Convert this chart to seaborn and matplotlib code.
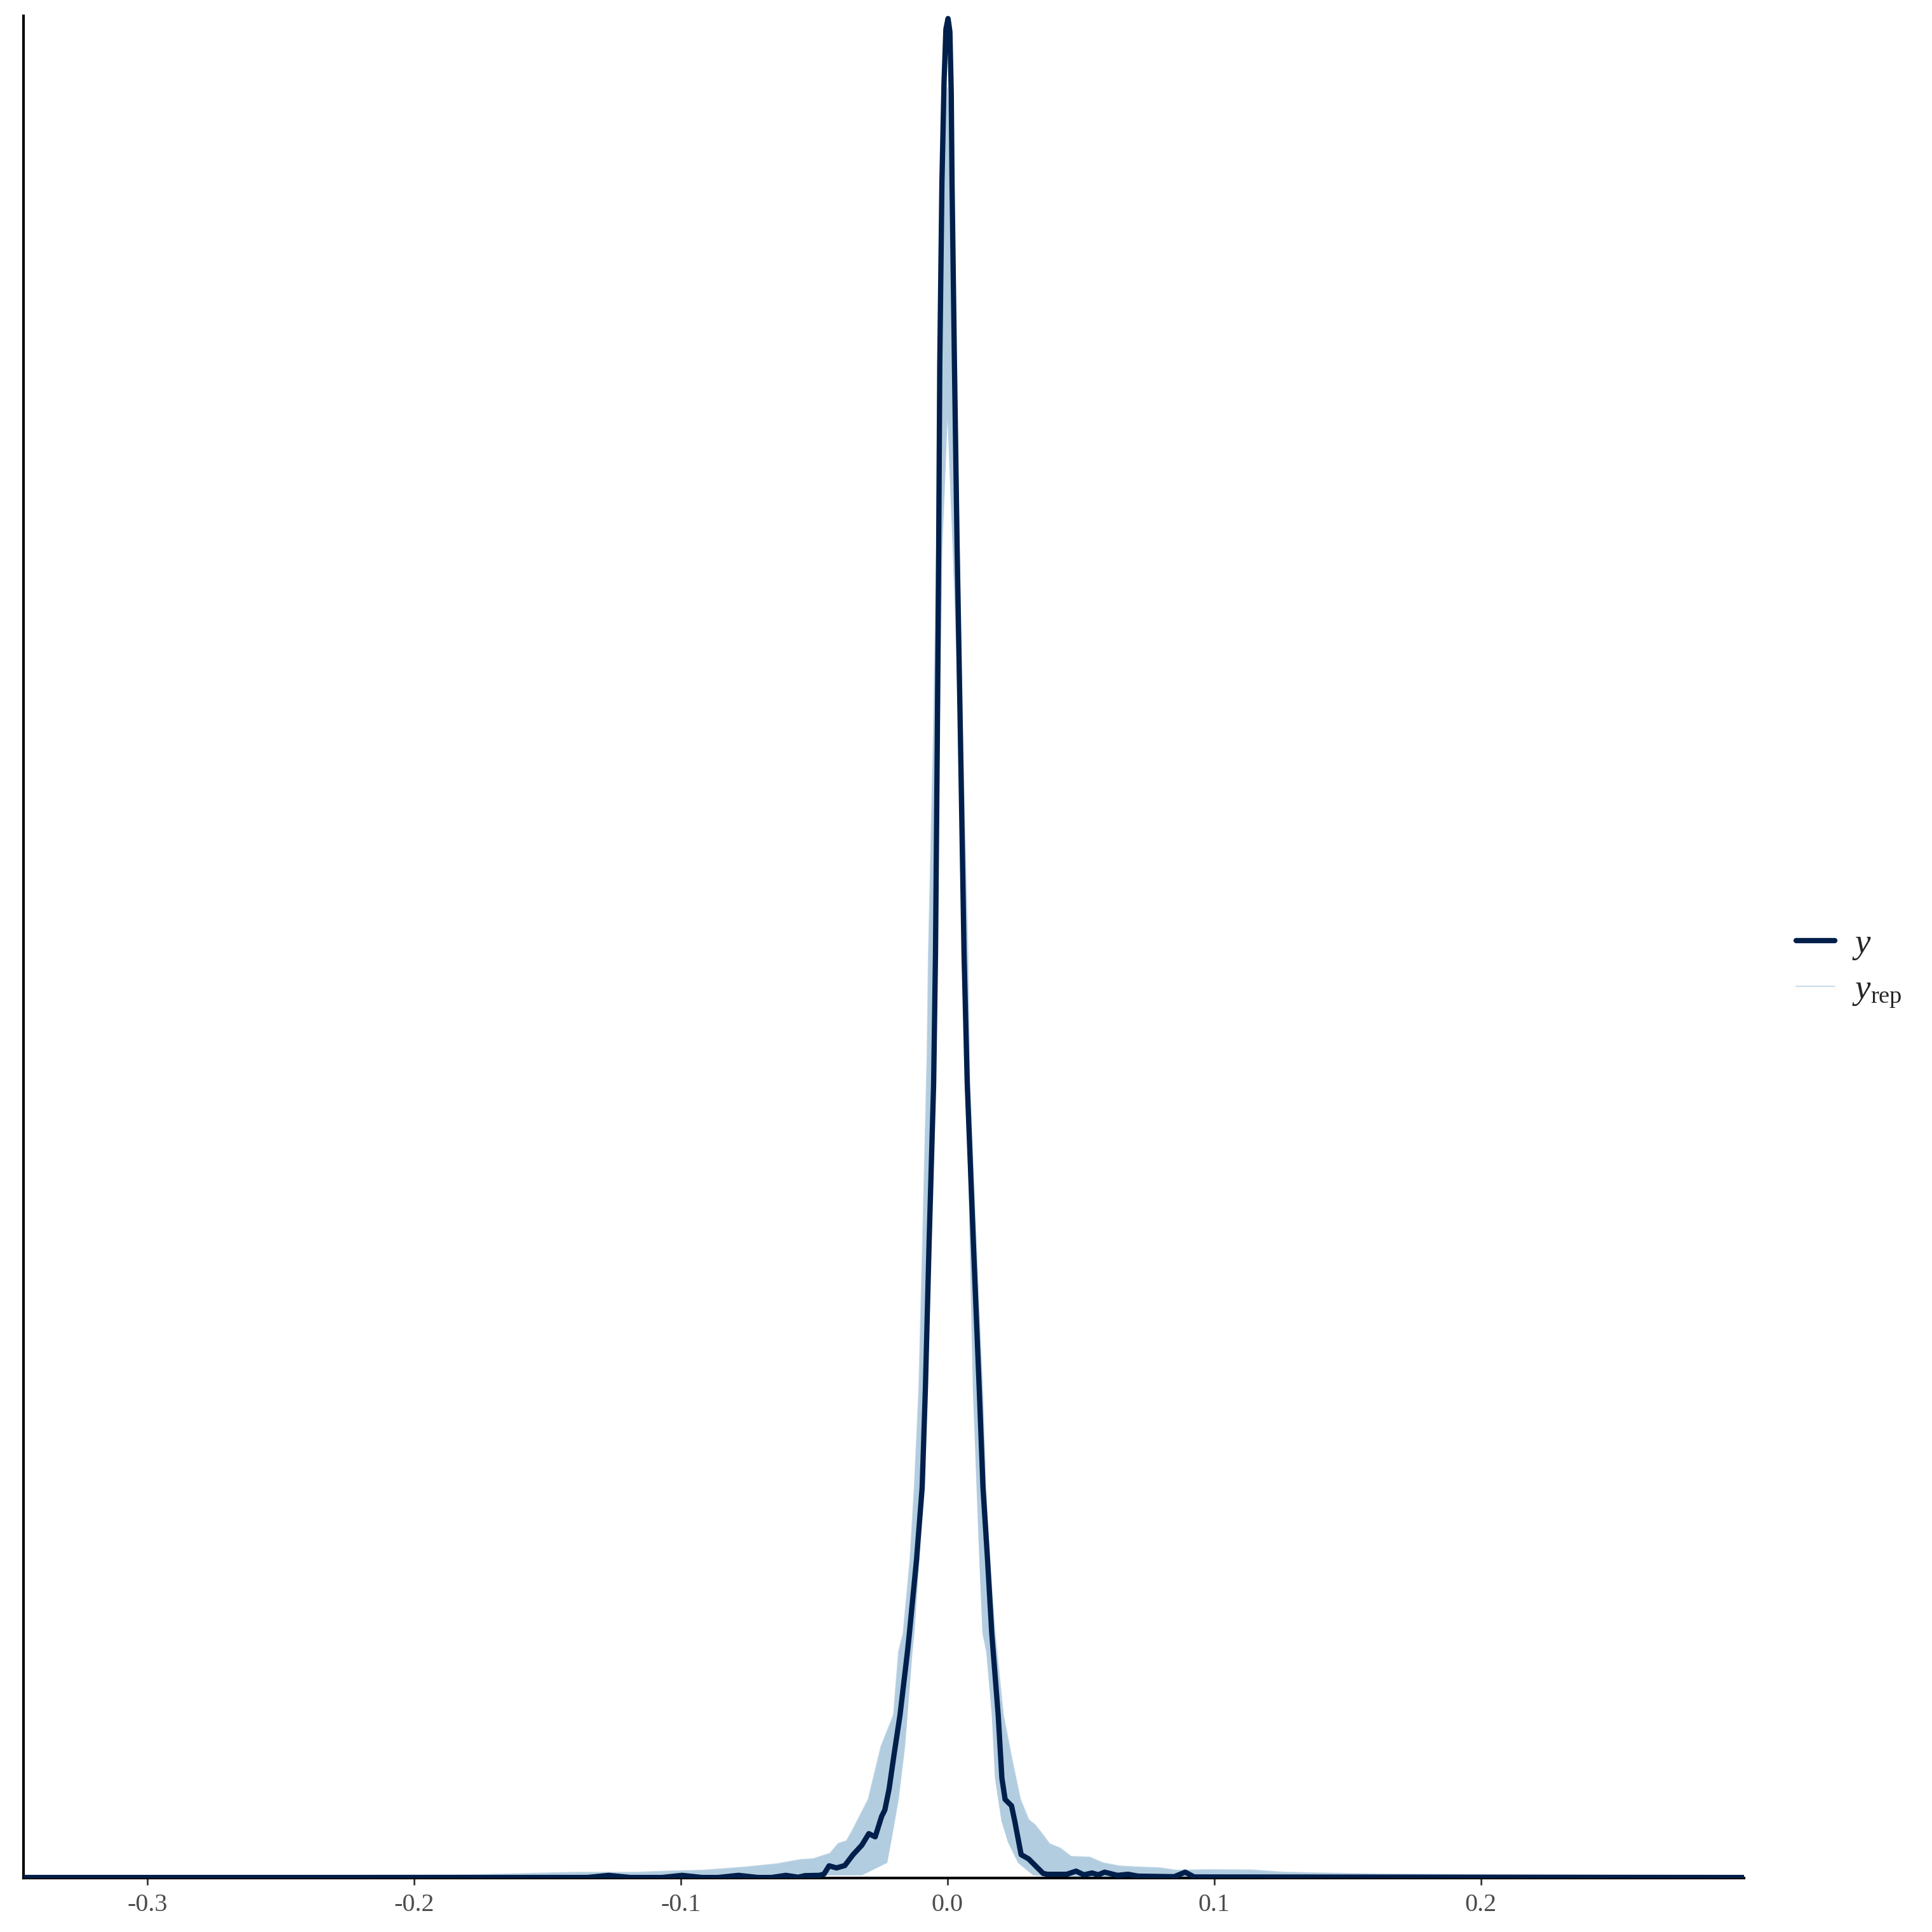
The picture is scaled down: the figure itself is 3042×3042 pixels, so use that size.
import matplotlib
matplotlib.use("Agg")
import matplotlib.pyplot as plt
from matplotlib import font_manager
import seaborn as sns

y_x = [-0.346, -0.200, -0.135, -0.127, -0.119, -0.107, -0.0995, -0.092, -0.086,
       -0.0784, -0.071, -0.066, -0.0606, -0.056, -0.0534, -0.048, -0.0463,
       -0.0444, -0.0416, -0.0385, -0.0354, -0.0321, -0.0295, -0.0271, -0.0247,
       -0.0235, -0.0219, -0.0202, -0.0178, -0.0150, -0.0143, -0.0116, -0.0095,
       -0.0083, -0.0069, -0.0052, -0.0045, -0.0038, -0.0033, -0.0029, -0.0021,
       -0.0013, -0.0006, 0.0002, 0.0009, 0.0014, 0.0017, 0.0026, 0.0036, 0.0048,
       0.0062, 0.0074, 0.0097, 0.0119, 0.0133, 0.0150, 0.0166, 0.0190, 0.0204,
       0.0216, 0.0240, 0.0252, 0.0276, 0.0304, 0.0359, 0.0375, 0.0447, 0.0482,
       0.0511, 0.0542, 0.0565, 0.0589, 0.0637, 0.0677, 0.0715, 0.0850, 0.0891,
       0.0925, 0.2986]
y_dens = [0.02, 0.02, 0.02, 0.10, 0.02, 0.02, 0.10, 0.02, 0.02,
          0.10, 0.02, 0.02, 0.10, 0.03, 0.09, 0.10, 0.15,
          0.46, 0.38, 0.47, 0.88, 1.24, 1.67, 1.55, 2.32,
          2.56, 3.35, 4.54, 6.14, 8.53, 9.2, 12.0, 14.7,
          18.4, 23.9, 29.9, 34.8, 43.2, 50.1, 57.0, 63.8,
          67.6, 69.6, 70.0, 69.5, 67.2, 63.8, 57.0, 50.1, 43.2,
          34.8, 29.9, 23.9, 18.4, 14.7, 12.0, 9.2, 6.14, 3.75,
          2.96, 2.72, 2.15, 0.88, 0.72, 0.17, 0.14, 0.14, 0.26,
          0.12, 0.19, 0.12, 0.22, 0.10, 0.14, 0.07, 0.05, 0.22,
          0.04, 0.02]

# replicated densities (y_rep): upper envelope of the draws
rep_hi_x = [-0.346, -0.30, -0.26, -0.22, -0.18, -0.16, -0.14, -0.117, -0.104,
            -0.0915, -0.0758, -0.064, -0.0551, -0.0504, -0.0440, -0.0409,
            -0.0378, -0.0354, -0.0297, -0.0249, -0.0202, -0.0183, -0.0166,
            -0.0140, -0.0124, -0.0107, -0.0093, -0.0076, -0.0071, -0.0052,
            -0.0040, -0.0033, -0.0021, 0.0, 0.0021, 0.0031, 0.0043, 0.0055,
            0.0076, 0.0083, 0.0107, 0.0131, 0.0143, 0.0157, 0.0178, 0.0209,
            0.0240, 0.0273, 0.0304, 0.0328, 0.0352, 0.0382, 0.0423, 0.0463,
            0.0534, 0.0582, 0.0644, 0.0715, 0.0796, 0.0857, 0.0976, 0.1143,
            0.1254, 0.137, 0.16, 0.20, 0.24, 0.2986]
rep_hi = [0.06, 0.07, 0.09, 0.10, 0.12, 0.16, 0.21, 0.21, 0.26,
          0.29, 0.41, 0.53, 0.69, 0.72, 0.93, 1.30,
          1.40, 1.84, 2.96, 4.95, 6.14, 8.53, 9.2,
          12.0, 14.7, 18.4, 23.9, 31.0, 34.8, 43.2,
          50.1, 57.0, 63.8, 67.4, 63.8, 57.0, 50.1, 43.2,
          34.8, 29.9, 23.9, 18.4, 14.7, 12.0, 9.2, 6.14,
          4.54, 2.96, 2.2, 2.0, 1.7, 1.29, 1.12, 0.81,
          0.78, 0.57, 0.45, 0.41, 0.38, 0.29, 0.31, 0.30,
          0.22, 0.19, 0.15, 0.12, 0.10, 0.06]

# replicated densities (y_rep): lower envelope of the draws
rep_lo_x = [-0.346, -0.0321, -0.0226, -0.0211, -0.0183, -0.0159, -0.0131,
            -0.0124, -0.0105, -0.0076, -0.0064, -0.0040, -0.0029, -0.0019,
            0.0, 0.0019, 0.0043, 0.0062, 0.0071, 0.0083, 0.0095, 0.0119,
            0.0131, 0.0145, 0.0166, 0.0178, 0.0202, 0.0226, 0.0264, 0.0321,
            0.045, 0.2986]
rep_lo = [0.0, 0.10, 0.57, 1.36, 2.96, 4.95, 8.53,
          9.2, 12.0, 18.4, 23.9, 34.8, 43.2, 50.1,
          54.9, 50.1, 43.2, 34.8, 29.9, 23.9, 18.4, 12.0,
          9.2, 8.53, 6.14, 3.75, 2.15, 1.36, 0.57, 0.10,
          0.0, 0.0]

x_ticks = [-0.3, -0.2, -0.1, 0.0, 0.1, 0.2]
x_lim = (-0.3464, 0.2986)
y_lim = (0, 70.1)

y_color = "#011f4b"
rep_color = "#b3cde0"

# pick a Times-like serif that is actually installed
installed = {f.name for f in font_manager.fontManager.ttflist}
serif = next((n for n in ["Liberation Serif", "Times New Roman", "Nimbus Roman",
                          "TeX Gyre Termes", "DejaVu Serif"] if n in installed),
             "serif")

sns.set_theme(style="white")
plt.rcParams["font.family"] = [serif, "DejaVu Serif"]
plt.rcParams["mathtext.fontset"] = "custom"
plt.rcParams["mathtext.rm"] = serif
plt.rcParams["mathtext.it"] = serif + ":italic"
plt.rcParams["axes.unicode_minus"] = False

fig = plt.figure(figsize=(10.14, 10.14), dpi=300)
ax = fig.add_axes([0.01216, 0.02794, 0.89054, 0.96384])

# band of replicated densities
ax.fill(list(rep_hi_x) + list(rep_lo_x)[::-1],
        list(rep_hi) + list(rep_lo)[::-1],
        color=rep_color, lw=0, zorder=1)
sns.lineplot(x=rep_hi_x, y=rep_hi, sort=False, estimator=None, color=rep_color,
             alpha=0.7, lw=0.5, ax=ax, label=r"$y_{\mathrm{rep}}$", zorder=2)
sns.lineplot(x=y_x, y=y_dens, sort=False, estimator=None, color=y_color,
             lw=2.0, ax=ax, label=r"$y$", zorder=3,
             solid_joinstyle="round")

ax.set_xlim(*x_lim)
ax.set_ylim(*y_lim)
ax.set_xticks(x_ticks)
ax.set_xticklabels([f"{t:.1f}" for t in x_ticks])
ax.set_yticks([])
ax.set_xlabel("")
ax.set_ylabel("")
ax.tick_params(axis="x", length=2.75, width=0.65, color="#333333",
               labelcolor="#4d4d4d", labelsize=9.6, pad=3, bottom=True)

sns.despine(ax=ax)
for side in ["left", "bottom"]:
    ax.spines[side].set_color("black")
    ax.spines[side].set_linewidth(1.0)

handles, labels = ax.get_legend_handles_labels()
leg = ax.legend([handles[1], handles[0]], [labels[1], labels[0]],
                loc="center left", bbox_to_anchor=(0.9297, 0.4984),
                bbox_transform=fig.transFigure, frameon=False, fontsize=13.2,
                handlelength=1.1, handletextpad=0.5, borderpad=0,
                borderaxespad=0, labelspacing=0.35)
leg.get_lines()[0].set_solid_capstyle("round")

fig.savefig("out.png", dpi=300, facecolor="white")
